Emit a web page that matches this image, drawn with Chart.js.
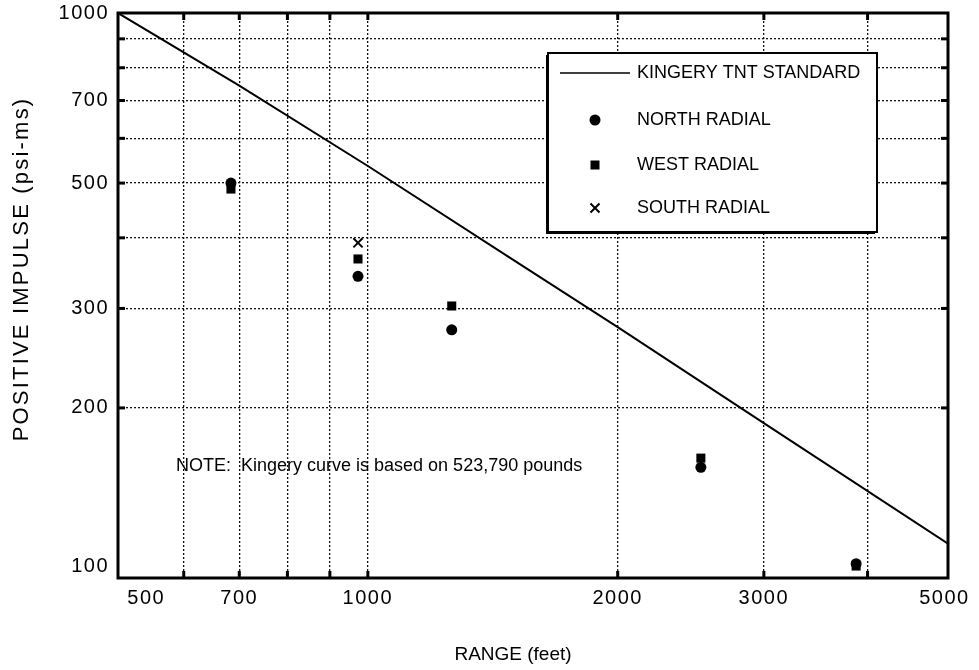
<!DOCTYPE html>
<html><head><meta charset="utf-8">
<script src="https://cdn.jsdelivr.net/npm/chart.js@4.4.1/dist/chart.umd.min.js"></script>
<style>html,body{margin:0;background:#fff}canvas{display:block}</style>
</head><body>
<canvas id="impulseChart" width="979" height="670"></canvas>
<script>
// values (log-log)
const kingeryRange   = [500, 700, 1000, 1500, 2000, 3000, 5000];
const kingeryImpulse = [1000, 744, 536, 365, 278, 188, 115];
const gaugeRange   = [684, 973, 1262, 2519, 3875];
const northImpulse = [500, 342, 275, 157, 106];
const westImpulse  = [488, 367, 303, 163, 105];
const southRange   = [973];
const southImpulse = [392];
const xTicks      = [500, 600, 700, 800, 900, 1000, 2000, 3000, 4000, 5000];
const xTickLabels = ['500', '', '700', '', '', '1000', '2000', '3000', '', '5000'];
const yTicks      = [100, 200, 300, 400, 500, 600, 700, 800, 900, 1000];
const yTickLabels = ['100', '200', '300', '', '500', '', '700', '', '', '1000'];
const legendLabels = ['KINGERY TNT STANDARD', 'NORTH RADIAL', 'WEST RADIAL', 'SOUTH RADIAL'];
const noteText = 'NOTE:  Kingery curve is based on 523,790 pounds';
const xTitle = 'RANGE (feet)';
const yTitle = 'POSITIVE IMPULSE (psi-ms)';

const FONT = '"Liberation Sans", Arial, Helvetica, sans-serif';
const pts = (xs, ys) => xs.map((x, i) => ({ x, y: ys[i] }));

function marker(ctx, style, x, y){
  ctx.save();
  ctx.fillStyle = '#000'; ctx.strokeStyle = '#000'; ctx.setLineDash([]);
  if (style === 'circle') { ctx.beginPath(); ctx.arc(x, y, 5.5, 0, Math.PI*2); ctx.fill(); }
  else if (style === 'rect') { ctx.fillRect(x-4.5, y-4.5, 9, 9); }
  else if (style === 'cross') { ctx.lineWidth = 2; ctx.beginPath(); ctx.moveTo(x-4.5,y-4.5); ctx.lineTo(x+4.5,y+4.5); ctx.moveTo(x+4.5,y-4.5); ctx.lineTo(x-4.5,y+4.5); ctx.stroke(); }
  else { ctx.lineWidth = 1.5; ctx.beginPath(); ctx.moveTo(x-35, y); ctx.lineTo(x+35, y); ctx.stroke(); }
  ctx.restore();
}

// the scanned tick numbers are widely spaced
const spacing = {
  id: 'spacing',
  beforeDraw(chart){ chart.ctx.letterSpacing = '1.5px'; },
  beforeDatasetsDraw(chart){ chart.ctx.letterSpacing = '0px'; }
};

const decor = {
  id: 'decor',
  afterDraw(chart){
    const { ctx, chartArea: a, scales } = chart;
    ctx.save();
    ctx.setLineDash([]);
    // inward tick marks
    ctx.fillStyle = '#000';
    xTicks.slice(1, -1).forEach(v => {
      const px = scales.x.getPixelForValue(v);
      ctx.fillRect(px-1.5, a.top, 3, 7);
      ctx.fillRect(px-1.5, a.bottom-7, 3, 7);
    });
    yTicks.slice(1, -1).forEach(v => {
      const py = scales.y.getPixelForValue(v);
      ctx.fillRect(a.left, py-1.5, 7, 3);
      ctx.fillRect(a.right-7, py-1.5, 7, 3);
    });
    // frame
    ctx.lineWidth = 3; ctx.strokeStyle = '#000';
    ctx.strokeRect(a.left, a.top, a.right-a.left, a.bottom-a.top);

    // legend box
    const bx = 548, by = 53, bw = 329, bh = 179;
    ctx.fillStyle = '#000'; ctx.fillRect(bx-2, by+2, bw, bh);
    ctx.fillStyle = '#fff'; ctx.fillRect(bx, by, bw, bh);
    ctx.lineWidth = 2; ctx.strokeRect(bx, by, bw, bh);
    const rowsY = [73, 120, 165, 208], styles = ['line', 'circle', 'rect', 'cross'];
    ctx.font = '18px ' + FONT; ctx.fillStyle = '#000'; ctx.textBaseline = 'middle'; ctx.textAlign = 'left';
    legendLabels.forEach((t, i) => {
      marker(ctx, styles[i], 595, rowsY[i]);
      ctx.fillText(t, 637, rowsY[i]);
    });

    // note
    ctx.fillText(noteText, 176, 466);

    // axis titles
    ctx.font = '19px ' + FONT; ctx.textAlign = 'center';
    ctx.fillText(xTitle, 513, 655);
    ctx.font = '22px ' + FONT; ctx.letterSpacing = '2.2px';
    ctx.translate(22, 269); ctx.rotate(-Math.PI/2);
    ctx.fillText(yTitle, 0, 0);
    ctx.restore();
  }
};

new Chart(document.getElementById('impulseChart'), {
  data: {
    datasets: [
      { type: 'line', label: legendLabels[0], data: pts(kingeryRange, kingeryImpulse), borderColor: '#000', borderWidth: 2, pointRadius: 0, tension: 0, fill: false },
      { type: 'scatter', label: legendLabels[1], data: pts(gaugeRange, northImpulse), pointStyle: 'circle', pointRadius: 5.5, backgroundColor: '#000', borderColor: '#000', borderWidth: 0 },
      { type: 'scatter', label: legendLabels[2], data: pts(gaugeRange, westImpulse), pointStyle: 'rect', pointRadius: 6.4, backgroundColor: '#000', borderColor: '#000', borderWidth: 0 },
      { type: 'scatter', label: legendLabels[3], data: pts(southRange, southImpulse), pointStyle: 'crossRot', pointRadius: 6.5, backgroundColor: '#000', borderColor: '#000', borderWidth: 2 }
    ]
  },
  options: {
    responsive: false, animation: false, devicePixelRatio: 1,
    layout: { padding: { top: 13, right: 31, left: 0, bottom: 0 } },
    plugins: { legend: { display: false }, tooltip: { enabled: false } },
    scales: {
      x: {
        type: 'logarithmic', min: 500, max: 5000,
        afterBuildTicks: s => { s.ticks = xTicks.map(v => ({ value: v })); },
        afterFit: s => { s.height = 92; s.paddingLeft = 0; s.paddingRight = 0; },
        ticks: {
          autoSkip: false, maxRotation: 0, padding: 8, color: '#000',
          font: { family: FONT, size: 20 },
          callback: (v) => {
            const l = xTickLabels[xTicks.indexOf(v)] || '';
            if (l === '500') return '        500';
            if (l === '5000') return '5000 ';
            return l;
          }
        },
        grid: { color: '#111', lineWidth: 1.3, drawTicks: false },
        border: { display: false, dash: [2, 2] }
      },
      y: {
        type: 'logarithmic', min: 100, max: 1000,
        afterBuildTicks: s => { s.ticks = yTicks.map(v => ({ value: v })); },
        afterFit: s => { s.width = 118; s.paddingTop = 0; s.paddingBottom = 0; },
        ticks: {
          autoSkip: false, padding: 9, color: '#000',
          font: { family: FONT, size: 20 },
          callback: (v) => {
            const l = yTickLabels[yTicks.indexOf(v)] || '';
            return l === '100' ? ['100', ''] : l;
          }
        },
        grid: { color: '#111', lineWidth: 1.3, drawTicks: false },
        border: { display: false, dash: [2, 2] }
      }
    }
  },
  plugins: [spacing, decor]
});
</script>
</body></html>
